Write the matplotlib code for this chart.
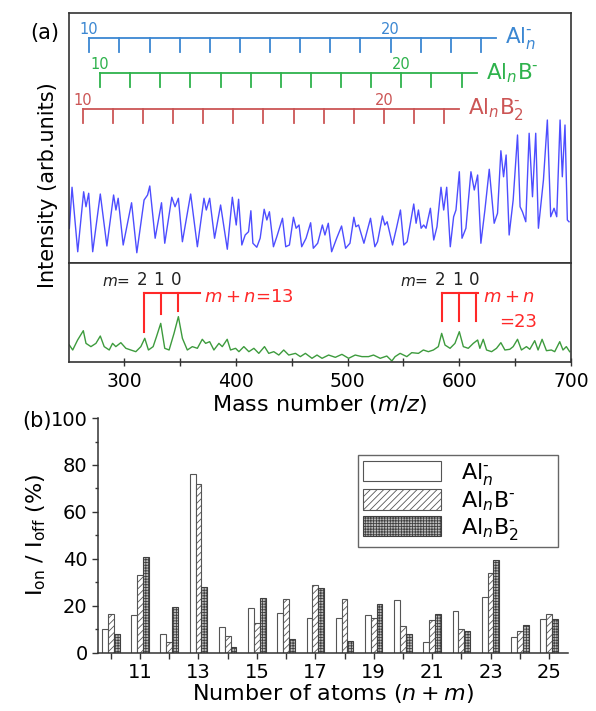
import matplotlib
matplotlib.use('Agg')
import matplotlib.pyplot as plt
from matplotlib.ticker import MultipleLocator, FixedLocator, NullLocator
import numpy as np

plt.rcParams['font.family'] = 'DejaVu Sans'
plt.rcParams['mathtext.fontset'] = 'dejavusans'
plt.rcParams['hatch.linewidth'] = 0.6

# ---------------- panel (a) data ----------------
# laser-off spectrum (blue), read at peaks / valleys / shoulders
mass_off = [250.9, 253.3, 258.4, 263.7, 265.8, 268.2, 271.8, 278.6, 284.5, 290.5,
            292.6, 294.6, 299.1, 306.6, 311.3, 317.8, 320.9, 322.9, 327.7, 333.4,
            336.3, 342.6, 345.5, 348.5, 352.1, 359.5, 365.5, 371.4, 373.5, 376.5,
            380.9, 386.3, 392.3, 396.8, 400.3,
            402.4, 405.3, 408.3, 411.3, 413.4, 415.2, 418.7, 421.7, 425.3, 427.7,
            430.0, 433.6, 436.6, 441.7, 444.6, 447.9, 451.5, 453.9, 456.5, 458.9,
            462.8, 466.9, 469.3, 473.2, 477.4, 479.7, 482.7, 485.7, 490.2, 494.6,
            498.2, 502.1, 505.6, 507.4, 509.8, 514.6, 517.0, 520.5, 524.4, 526.8,
            531.2, 533.3, 535.4, 540.2, 543.7, 547.3, 550.3,
            553.3, 556.2, 559.2, 561.3, 563.4, 565.8, 568.1, 570.2, 574.1, 577.1,
            580.0, 583.6, 586.0, 588.7, 591.9, 594.9, 597.0, 600.0, 602.4, 605.9,
            610.4, 613.4, 616.4, 619.3, 622.9, 626.8, 628.9, 631.2, 634.2, 637.2,
            639.6, 641.9, 644.6, 648.2, 652.1, 654.4, 656.5, 659.5, 662.5, 665.5,
            668.4, 670.8, 675.3, 678.8, 681.8, 684.8, 687.2, 690.2, 692.2, 694.6,
            696.7, 698.2]
int_off = [13.9, 30.3, 4.5, 28.5, 22.5, 27.9, 4.5, 27.6, 6.8, 27.2,
           21.2, 25.9, 7.2, 24.1, 4.1, 25.2, 27.2, 30.8, 9.9, 24.1,
           7.9, 26.3, 22.5, 25.9, 8.5, 27.6, 6.5, 25.9, 21.2, 25.9,
           9.9, 23.2, 5.5, 26.3, 15.2,
           25.5, 7.2, 11.2, 12.5, 20.9, 7.9, 6.3, 9.9, 21.5, 17.2,
           20.5, 6.5, 10.5, 17.9, 6.5, 7.2, 18.3, 13.9, 15.2, 6.5,
           9.9, 16.1, 5.9, 7.9, 15.2, 11.2, 15.9, 4.5, 9.9, 14.8,
           5.9, 7.9, 18.3, 14.5, 15.2, 7.9, 11.9, 17.9, 6.5, 8.5,
           18.8, 15.2, 16.5, 7.2, 13.9, 21.2, 7.2,
           8.5, 15.9, 23.6, 15.9, 21.2, 13.9, 15.2, 13.9, 21.9, 9.2,
           14.5, 30.3, 21.2, 30.3, 6.5, 18.5, 21.2, 36.5, 9.9, 13.9,
           36.5, 29.2, 35.2, 7.9, 21.2, 37.5, 27.2, 15.9, 19.9, 44.9,
           34.5, 43.2, 11.2, 25.2, 51.2, 22.5, 20.5, 16.5, 51.9, 26.5,
           51.9, 13.9, 33.2, 57.2, 18.5, 21.9, 18.5, 57.2, 34.5, 55.2,
           17.2, 16.5]

# laser-on difference spectrum (green)
mass_on = [250.9, 253.9, 258.3, 263.4, 265.8, 270.2, 274.7, 278.6, 282.1, 286.6,
           289.6, 292.5, 297.0, 301.5, 305.9, 310.4, 314.9, 318.4, 321.7, 325.9,
           328.9, 332.7, 336.3, 340.2, 344.6, 348.5, 352.1, 356.5, 361.0, 365.5,
           369.9, 372.9, 376.5, 380.3, 384.8, 387.8, 392.2, 395.2, 399.7, 402.7,
           407.1, 411.6, 416.1, 420.5, 425.6, 429.4, 433.9, 438.4, 442.8, 447.3,
           453.3, 457.7, 462.2, 468.1, 472.6, 477.1, 483.0, 489.0, 494.9, 500.9,
           506.8, 512.8, 518.7, 523.2, 529.2, 535.1, 539.6, 542.5, 547.0, 553.0,
           557.4, 563.4, 567.8, 572.3, 576.8, 581.2, 584.2, 587.2, 591.7, 596.1,
           600.0, 603.6, 608.0, 612.5, 616.4, 618.4, 621.4, 624.4, 628.9, 633.3,
           637.2, 640.8, 645.2, 648.2, 652.1, 655.6, 660.1, 663.1, 667.5, 670.5,
           674.1, 678.0, 682.4, 685.4, 689.9, 692.8, 695.8, 698.8]
int_on = [17.1, 12.1, 22.2, 31.6, 18.8, 15.5, 18.8, 26.2, 15.5, 12.1,
          18.8, 15.5, 19.5, 13.8, 12.1, 10.4, 15.5, 23.9, 12.1, 15.5,
          25.6, 39.0, 13.8, 12.1, 28.9, 45.8, 23.9, 12.1, 15.5, 13.8,
          22.9, 18.8, 20.5, 12.1, 18.8, 15.5, 22.9, 12.1, 13.8, 10.4,
          15.5, 10.4, 13.8, 8.7, 15.5, 8.7, 10.4, 7.0, 12.1, 7.0,
          8.7, 5.4, 8.7, 3.7, 7.0, 3.7, 7.0, 4.7, 7.7, 3.7,
          7.0, 5.4, 5.4, 7.0, 3.7, 6.0, 1.0, 5.4, 8.7, 5.4,
          9.4, 8.7, 12.1, 10.4, 12.1, 15.5, 28.9, 17.1, 13.8, 18.8,
          30.6, 15.5, 13.8, 18.8, 22.2, 13.8, 22.9, 12.1, 10.4, 13.8,
          19.5, 12.1, 12.8, 15.5, 22.9, 12.1, 15.5, 12.8, 21.5, 12.1,
          22.9, 11.4, 12.1, 10.4, 20.5, 12.1, 15.5, 10.4]

# cluster ladders Al_n^-, Al_nB^-, Al_nB2^- (n = 10 ... )
ladder_labels = ['Al$_{n}^{\u2010}$', 'Al$_{n}$B$^{\u2010}$', 'Al$_{n}$B$_{2}^{\u2010}$']
ladder_colors = ['#3b87d2', '#2eb24c', '#cc5555']
ladder_start = [268.7, 278.3, 262.8]      # mass of n = 10
ladder_sizes = [list(range(10, 24)), list(range(10, 23)), list(range(10, 23))]
ladder_level = [89.9, 75.9, 61.5]
al_mass = 26.98

# m + n = 13 / 23 markers, m = 2, 1, 0
mark13 = [317.6, 332.5, 348.2]
mark13_low = [30.0, 48.2, 51.5]
mark23 = [584.3, 599.7, 614.6]
mark23_low = [41.4, 41.4, 41.4]
m_values = ['2', '1', '0']

# ---------------- panel (b) data ----------------
atoms = list(range(10, 26))
ratio_al = [10.0, 16.0, 8.1, 76.2, 11.0, 19.1, 16.9, 15.0, 14.9, 16.2, 22.3, 4.5, 17.6, 23.7, 6.7, 14.5]
ratio_alb = [16.7, 33.3, 4.5, 72.0, 7.2, 12.8, 22.7, 28.7, 23.0, 15.0, 11.5, 13.9, 10.0, 34.0, 9.4, 16.7]
ratio_alb2 = [8.0, 40.8, 19.3, 27.8, 2.3, 23.4, 6.0, 27.4, 5.0, 20.6, 8.0, 16.6, 9.4, 39.3, 12.0, 14.5]

fig = plt.figure(figsize=(5.96, 7.11), dpi=100)

frame_c = '#333333'
ax_top = fig.add_axes([0.1158, 0.6301, 0.8423, 0.3516])
ax_bot = fig.add_axes([0.1158, 0.4909, 0.8423, 0.1392], sharex=ax_top)
for ax in (ax_top, ax_bot):
    for s in ax.spines.values():
        s.set_color(frame_c)
        s.set_linewidth(1.2)
    ax.set_ylim(0, 100)
    ax.yaxis.set_major_locator(NullLocator())
ax_top.set_xlim(250.6, 700)
ax_top.tick_params(axis='x', which='both', bottom=False, labelbottom=False)

ax_top.plot(mass_off, int_off, color='#4d4dff', lw=1.0)

for lab, col, start, sizes, lev in zip(ladder_labels, ladder_colors, ladder_start,
                                        ladder_sizes, ladder_level):
    xs = [start + (n - 10) * al_mass for n in sizes]
    ax_top.plot([xs[0], xs[-1] + 0.5 * al_mass], [lev, lev], color=col, lw=1.3)
    for x in xs:
        ax_top.plot([x, x], [lev, lev - 5.6], color=col, lw=1.3)
    ax_top.text(xs[0], lev + 0.6, '10', color=col, fontsize=10.5, ha='center', va='bottom')
    ax_top.text(xs[10], lev + 0.6, '20', color=col, fontsize=10.5, ha='center', va='bottom')
    ax_top.text(xs[-1] + 0.5 * al_mass + 8, lev, lab, color=col, fontsize=15.5,
                ha='left', va='center')

ax_bot.plot(mass_on, int_on, color='#3d9b3d', lw=1.0)
red = '#ff2828'
for marks, lows, end in ((mark13, mark13_low, 367.6), (mark23, mark23_low, 616.3)):
    ax_bot.plot([marks[0], end], [70, 70], color=red, lw=1.5)
    for x, lo, mv in zip(marks, lows, m_values):
        ax_bot.plot([x, x], [70, lo], color=red, lw=1.5)
        ax_bot.text(x - 1.5, 74, mv, fontsize=12, ha='center', va='bottom', color='#222222')
    ax_bot.text(marks[0] - 12, 74, r'$m$=', fontsize=11, ha='right', va='bottom', color='#222222')
ax_bot.text(371, 66, r'$m+n$=13', fontsize=13, color=red, ha='left', va='center')
ax_bot.text(621, 66, r'$m+n$', fontsize=13, color=red, ha='left', va='center')
ax_bot.text(636, 40, '=23', fontsize=13, color=red, ha='left', va='center')

ax_bot.xaxis.set_major_locator(MultipleLocator(100))
ax_bot.xaxis.set_minor_locator(MultipleLocator(50))
ax_bot.tick_params(axis='x', which='both', direction='inout', length=6, width=1,
                   color=frame_c, labelsize=13.5, pad=4)
ax_bot.set_xlabel(r'Mass number ($m/z$)', fontsize=16, labelpad=2)

fig.text(0.080, 0.74, 'Intensity (arb.units)', rotation=90, fontsize=15,
         ha='center', va='center')
fig.text(0.075, 0.953, '(a)', fontsize=15, ha='center', va='center')

# ---------------- panel (b) ----------------
axb = fig.add_axes([0.1644, 0.082, 0.7886, 0.330])
w = 0.2
x = np.array(atoms)
edge = '#555555'
axb.bar(x - w, ratio_al, w, color='white', edgecolor=edge, lw=0.8, label=ladder_labels[0])
axb.bar(x, ratio_alb, w, color='white', edgecolor=edge, lw=0.8, hatch='/////', label=ladder_labels[1])
axb.bar(x + w, ratio_alb2, w, color='#bdbdbd', edgecolor='#404040', lw=0.8, hatch='++++++',
        label=ladder_labels[2])

axb.set_xlim(9.56, 25.65)
axb.set_ylim(0, 100)
axb.spines['top'].set_visible(False)
axb.spines['right'].set_visible(False)
for s in ('left', 'bottom'):
    axb.spines[s].set_color(frame_c)
    axb.spines[s].set_linewidth(1.1)
axb.xaxis.set_major_locator(FixedLocator(atoms))
axb.set_xticklabels([str(a) if a % 2 else '' for a in atoms])
axb.yaxis.set_major_locator(MultipleLocator(20))
axb.yaxis.set_minor_locator(MultipleLocator(10))
axb.tick_params(axis='both', which='major', direction='out', length=4, width=1,
                color=frame_c, labelsize=14)
axb.tick_params(axis='y', which='minor', direction='out', length=2.5, width=1, color=frame_c)
axb.set_xlabel(r'Number of atoms ($n+m$)', fontsize=16, labelpad=0)
axb.set_ylabel(r'I$_{\rm on}$ / I$_{\rm off}$ (%)', fontsize=16, labelpad=2)
fig.text(0.062, 0.408, '(b)', fontsize=15, ha='center', va='center')

leg = axb.legend(loc='upper left', bbox_to_anchor=(0.5526, 0.47, 0.4254, 0.372),
                 mode='expand', fontsize=16,
                 handlelength=3.5, handleheight=1.05, handletextpad=0.9,
                 labelspacing=0.12, borderpad=0.25, borderaxespad=0,
                 fancybox=False, edgecolor='#666666', framealpha=1)
leg.get_frame().set_linewidth(1.0)

fig.savefig('out.png', dpi=100)
